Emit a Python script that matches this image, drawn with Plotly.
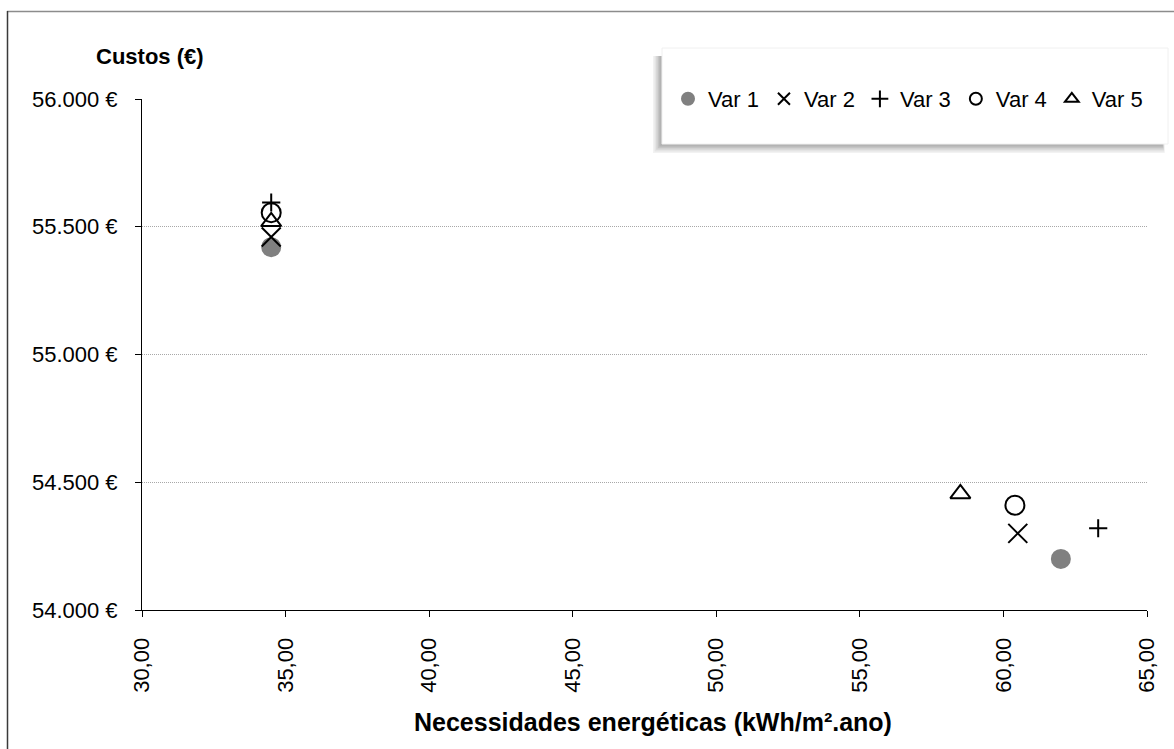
import plotly.graph_objects as go

# ---- data ----
series_names = ["Var 1", "Var 2", "Var 3", "Var 4", "Var 5"]
x_values = [[34.5, 62.0], [34.5, 60.5], [34.5, 63.3], [34.5, 60.4], [34.5, 58.5]]
y_values = [[55420, 54200], [55460, 54300], [55595, 54320], [55555, 54410], [55520, 54455]]

x_tick_vals = [30, 35, 40, 45, 50, 55, 60, 65]
y_tick_vals = [54000, 54500, 55000, 55500, 56000]
y_tick_text = ["54.000 €", "54.500 €", "55.000 €", "55.500 €", "56.000 €"]

# ---- styling ----
W, H = 1174, 749
PL, PR, PT, PB = 142, 1147, 99, 610  # plot area in pixels
FONT = "Liberation Sans, Arial, sans-serif"

def px_x(p):
    return (p - PL) / (PR - PL)

def px_y(p):
    return (PB - p) / (PB - PT)

symbols = ["circle", "x-thin", "cross-thin", "circle-open", "triangle-up-open"]
sizes = [18, 19, 13, 19, 17.5]
colors = ["#808080", "#000000", "#000000", "#000000", "#000000"]

fig = go.Figure()
for name, xs, ys, sym, sz, col in zip(series_names, x_values, y_values, symbols, sizes, colors):
    fig.add_trace(go.Scatter(
        x=xs, y=ys, mode="markers", name=name,
        marker=dict(symbol=sym, size=sz, color=col,
                    line=dict(width=2, color=col)),
    ))

shapes = []
# outer chart border (top and left visible)
shapes.append(dict(type="line", xref="paper", yref="paper",
                   x0=px_x(7), x1=px_x(1200), y0=px_y(11.5), y1=px_y(11.5),
                   line=dict(color="#8c8c8c", width=1.5), layer="below"))
shapes.append(dict(type="line", xref="paper", yref="paper",
                   x0=px_x(7.5), x1=px_x(7.5), y0=px_y(11), y1=px_y(800),
                   line=dict(color="#3a3a3a", width=1.5), layer="below"))
# legend shadow (soft)
lx0, lx1, ly0, ly1 = 662, 1168, 48, 144
for i, op in enumerate([0.10, 0.12, 0.15, 0.2, 0.25]):
    d = 9 - i * 1.6
    shapes.append(dict(type="rect", xref="paper", yref="paper",
                       x0=px_x(lx0 - d), x1=px_x(lx1 - 6 + d * 0.3),
                       y0=px_y(ly1 + d), y1=px_y(ly0 + 8),
                       fillcolor="#808080", opacity=op, line=dict(width=0),
                       layer="above"))
shapes.append(dict(type="rect", xref="paper", yref="paper",
                   x0=px_x(lx0), x1=px_x(lx1), y0=px_y(ly1), y1=px_y(ly0),
                   fillcolor="white", line=dict(color="#f0f0f0", width=1),
                   layer="above"))

annotations = [
    dict(text="<b>Custos (€)</b>", xref="paper", yref="paper",
         x=px_x(150), y=px_y(57), xanchor="center", yanchor="middle",
         showarrow=False, font=dict(family=FONT, size=22, color="black")),
    dict(text="<b>Necessidades energéticas (kWh/m².ano)</b>", xref="paper", yref="paper",
         x=px_x(653), y=px_y(722), xanchor="center", yanchor="middle",
         showarrow=False, font=dict(family=FONT, size=25, color="black")),
]

fig.update_layout(
    width=W, height=H,
    margin=dict(l=PL, r=W - PR, t=PT, b=H - PB, pad=0),
    paper_bgcolor="white", plot_bgcolor="white",
    separators=",.",
    font=dict(family=FONT, size=22, color="black"),
    showlegend=True,
    legend=dict(orientation="h", x=px_x(668), y=px_y(99), xanchor="left", yanchor="middle",
                bgcolor="rgba(0,0,0,0)", borderwidth=0,
                font=dict(family=FONT, size=22, color="black"),
                itemsizing="constant", traceorder="normal"),
    shapes=shapes,
    annotations=annotations,
    xaxis=dict(range=[30, 65], tickvals=x_tick_vals, tickformat=".2f",
               tickangle=-90, showgrid=False, zeroline=False,
               showline=True, linecolor="black", linewidth=1,
               ticks="outside", ticklen=6, tickcolor="black",
               ticklabelstandoff=12,
               tickfont=dict(family=FONT, size=22, color="black")),
    yaxis=dict(range=[54000, 56000], tickvals=y_tick_vals, ticktext=y_tick_text,
               showgrid=True, gridcolor="#a8a8a8", griddash="1px,1px",
               gridwidth=1, zeroline=False,
               showline=True, linecolor="black", linewidth=1,
               ticks="outside", ticklen=6, tickcolor="black",
               ticklabelstandoff=13,
               tickfont=dict(family=FONT, size=22, color="black")),
)

fig.write_html("out.html")
